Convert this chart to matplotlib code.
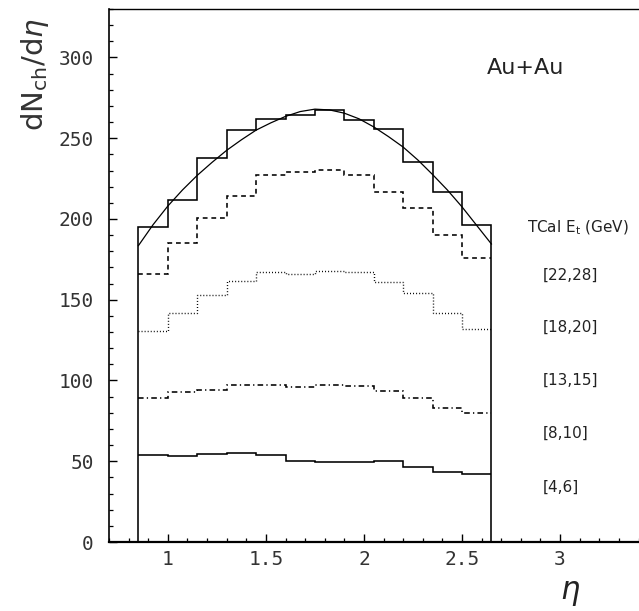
import matplotlib
matplotlib.use("Agg")
import matplotlib.pyplot as plt
from matplotlib.ticker import MultipleLocator, FixedLocator, FixedFormatter

# ---- data ----
bin_edges = [0.85, 1.00, 1.15, 1.30, 1.45, 1.60, 1.75, 1.90, 2.05, 2.20, 2.35, 2.50, 2.65]

et_22_28 = [195, 212, 238, 255, 262, 264.5, 267.5, 261.5, 255.5, 235.5, 217, 196.5]
et_18_20 = [166, 185, 200.5, 214.5, 227, 229, 230.5, 227.5, 216.5, 207, 190, 176]
et_13_15 = [130.5, 142, 153, 161.5, 167, 166, 167.5, 167, 161, 154, 142, 132]
et_8_10 = [89, 93, 94, 97.5, 97.5, 96, 97, 96.5, 93.5, 89, 83, 80]
et_4_6 = [54, 53.3, 54.3, 55.3, 53.7, 50.4, 49.8, 49.6, 50.4, 46.7, 43.4, 42.3]

fit_eta = [0.85, 0.925, 1.0, 1.075, 1.15, 1.225, 1.3, 1.375, 1.45, 1.525, 1.6, 1.675,
           1.75, 1.825, 1.9, 1.975, 2.05, 2.125, 2.2, 2.275, 2.35, 2.425, 2.5, 2.575, 2.65]
fit_val = [183.5, 196.5, 208, 218, 227, 235, 242.5, 249, 255, 259.5, 263.5, 266.5,
           268, 267.5, 265.5, 262, 257, 251, 244.5, 236.5, 227.5, 218, 207.5, 196, 184.5]

legend_title = "TCal E$_{\\rm t}$ (GeV)"
legend_labels = ["[22,28]", "[18,20]", "[13,15]", "[8,10]", "[4,6]"]

x_ticks = [1.0, 1.5, 2.0, 2.5, 3.0]
x_tick_labels = ["1", "1.5", "2", "2.5", "3"]
y_ticks = [0, 50, 100, 150, 200, 250, 300]
y_tick_labels = ["0", "50", "100", "150", "200", "250", "300"]

# ---- figure ----
W, H = 639, 611
fig = plt.figure(figsize=(W / 100, H / 100), dpi=100)
ax = fig.add_axes([109 / W, 1 - 542 / H, 1 - 109 / W - 0.5 / W, (542 - 9) / H])

ax.set_xlim(0.7, 3.4)
ax.set_ylim(0, 330)

lw = 1.15
ax.stairs(et_22_28, bin_edges, baseline=0, color="black", lw=lw)
ax.stairs(et_18_20, bin_edges, baseline=None, color="black", lw=lw, linestyle=(0, (3.0, 2.4)))
ax.stairs(et_13_15, bin_edges, baseline=None, color="black", lw=1.0, linestyle=(0, (0.7, 1.5)))
ax.stairs(et_8_10, bin_edges, baseline=None, color="black", lw=lw, linestyle=(0, (3.5, 2.0, 0.8, 2.0)))
ax.stairs(et_4_6, bin_edges, baseline=None, color="black", lw=lw)
ax.plot(fit_eta, fit_val, color="black", lw=0.9)

# spines
ax.spines["bottom"].set_linewidth(1.6)
ax.spines["left"].set_linewidth(1.2)
ax.spines["top"].set_linewidth(1.0)
ax.spines["right"].set_linewidth(0.6)
ax.spines["right"].set_color("#cccccc")

# ticks
ax.xaxis.set_major_locator(FixedLocator(x_ticks))
ax.xaxis.set_major_formatter(FixedFormatter(x_tick_labels))
ax.xaxis.set_minor_locator(MultipleLocator(0.1))
ax.yaxis.set_major_locator(FixedLocator(y_ticks))
ax.yaxis.set_major_formatter(FixedFormatter(y_tick_labels))
ax.yaxis.set_minor_locator(MultipleLocator(10))

ax.tick_params(axis="both", which="major", direction="in", length=5.5, width=1.0,
               colors="black", labelcolor="#333333")
ax.tick_params(axis="both", which="minor", direction="in", length=3.2, width=0.9)
ax.tick_params(axis="y", which="both", left=True, right=False, pad=11)
ax.tick_params(axis="x", which="both", bottom=True, top=False, pad=6)
for lab in ax.get_xticklabels() + ax.get_yticklabels():
    lab.set_fontfamily("DejaVu Sans Mono")
    lab.set_fontsize(14)

# texts
def px(x, y):
    return x / W, 1 - y / H

fig.text(*px(35, 74), r"dN$_{\rm ch}$/d$\eta$", rotation=90, ha="center", va="center",
         fontsize=21, color="#333333", family="DejaVu Sans")
fig.text(*px(526, 68), "Au+Au", ha="center", va="center", fontsize=16, color="#222222",
         family="DejaVu Sans")
fig.text(*px(578, 228), legend_title, ha="center", va="center", fontsize=11,
         color="#222222", family="DejaVu Sans")
legend_y = [275, 327, 380, 433, 487]
for lab, yy in zip(legend_labels, legend_y):
    fig.text(*px(543, yy), lab, ha="left", va="center", fontsize=11, color="#222222",
             family="DejaVu Sans")
fig.text(*px(570, 593), r"$\eta$", ha="center", va="center", fontsize=22, color="#222222")

fig.savefig("out.png", dpi=100)
